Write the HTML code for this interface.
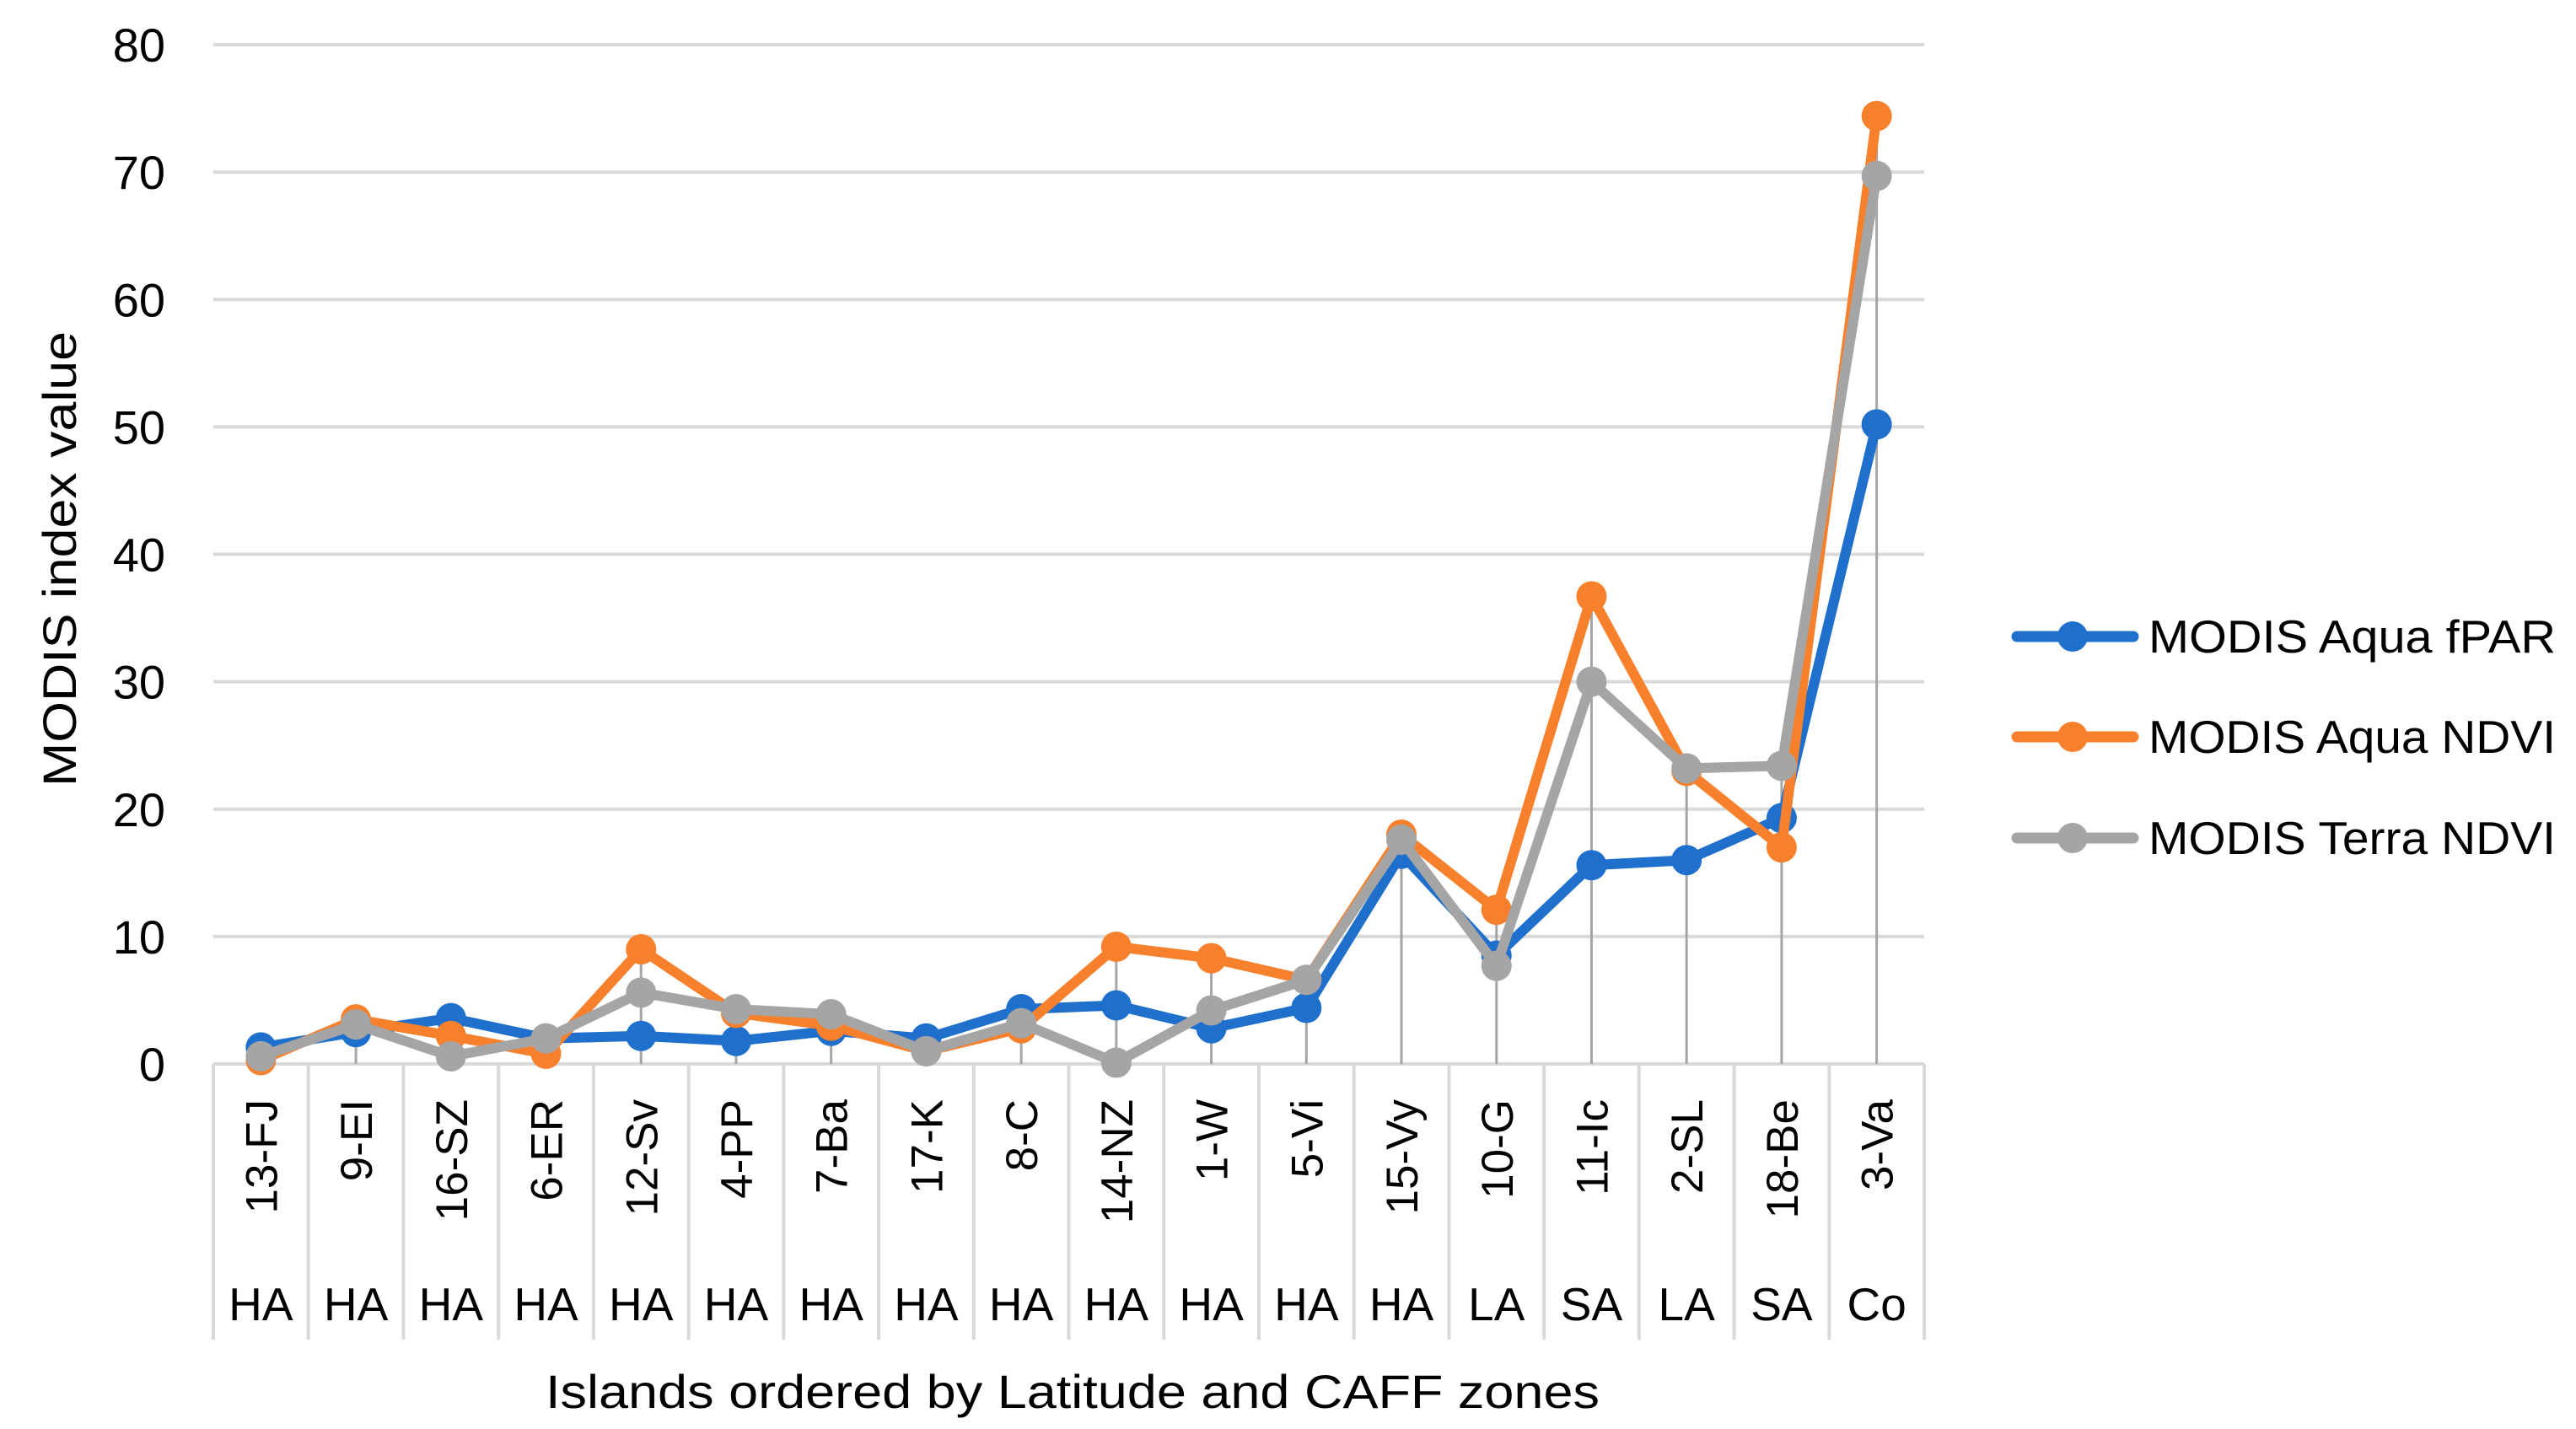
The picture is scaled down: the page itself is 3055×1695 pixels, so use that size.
<!DOCTYPE html>
<html><head><meta charset="utf-8">
<style>
html,body{margin:0;padding:0;background:#fff;}
svg{display:block;font-family:"Liberation Sans",Arial,sans-serif;}
</style></head>
<body>
<svg id="chart" width="3055" height="1695" viewBox="0 0 3055 1695" xmlns="http://www.w3.org/2000/svg">
<g id="grid"></g>
<g id="yticks"></g>
<g id="xcats"></g>
<g id="drops"></g>
<g id="series"></g>
<text x="0" y="0" font-size="56" fill="#000" text-anchor="middle" textLength="540" lengthAdjust="spacingAndGlyphs" transform="translate(90,663) rotate(-90)">MODIS index value</text>
<text x="1272" y="1670" font-size="56" fill="#000" text-anchor="middle" textLength="1250" lengthAdjust="spacingAndGlyphs">Islands ordered by Latitude and CAFF zones</text>
<g id="legend"></g>
</svg>
<script>
const categories = ["13-FJ","9-EI","16-SZ","6-ER","12-Sv","4-PP","7-Ba","17-K","8-C","14-NZ","1-W","5-Vi","15-Vy","10-G","11-Ic","2-SL","18-Be","3-Va"];
const zones = ["HA","HA","HA","HA","HA","HA","HA","HA","HA","HA","HA","HA","HA","LA","SA","LA","SA","Co"];
const fparValues = [1.3,2.5,3.6,2.0,2.2,1.8,2.6,2.0,4.3,4.6,2.8,4.4,16.5,8.5,15.6,16.0,19.3,50.2];
const aquaNdviValues = [0.3,3.5,2.2,0.8,9.0,4.0,3.0,1.0,2.8,9.2,8.3,6.6,18.0,12.1,36.7,23.0,17.0,74.4];
const terraNdviValues = [0.6,3.1,0.6,2.0,5.6,4.3,3.9,1.0,3.2,0.1,4.2,6.6,17.6,7.7,30.0,23.2,23.4,69.7];
const yTicks = [0,10,20,30,40,50,60,70,80];
const seriesNames = ["MODIS Aqua fPAR","MODIS Aqua NDVI","MODIS Terra NDVI"];

const NS="http://www.w3.org/2000/svg";
const X0=253, X1=2282, Y0=1262, Y80=53, BOT=1589;
const bw=(X1-X0)/categories.length;
function xs(i){return X0+bw*(i+0.5);}
function ys(v){return Y0-(v/80)*(Y0-Y80);}
function mk(tag,attrs,parent){const e=document.createElementNS(NS,tag);for(const k in attrs)e.setAttribute(k,attrs[k]);parent.appendChild(e);return e;}

const grid=document.getElementById('grid'), yt=document.getElementById('yticks');
yTicks.forEach(t=>{
  const l=mk('line',{x1:X0,x2:X1,y1:ys(t),y2:ys(t),stroke:'#d9d9d9','stroke-width':4},grid);
  
  
  const tx=mk('text',{x:196,y:ys(t)+20,'font-size':56,'text-anchor':'end',fill:'#000'},yt);
  tx.textContent=t;
  
  
});

const xc=document.getElementById('xcats');
for(let i=0;i<=categories.length;i++){
  const x=X0+bw*i;
  const l=mk('line',{x1:x,x2:x,y1:Y0,y2:BOT,stroke:'#d9d9d9','stroke-width':4},xc);
  
  
}
categories.forEach((c,i)=>{
  const t=mk('text',{x:0,y:0,'font-size':53,'text-anchor':'end',fill:'#000',transform:`translate(${xs(i)+19},1304) rotate(-90)`},xc);
  t.textContent=c;
  
  
  const z=mk('text',{x:xs(i),y:1566,'font-size':55,'text-anchor':'middle',fill:'#000'},xc);
  z.textContent=zones[i];
  
  
});

const dr=document.getElementById('drops');
categories.forEach((c,i)=>{
  const m=Math.max(fparValues[i],aquaNdviValues[i],terraNdviValues[i]);
  const l=mk('line',{x1:xs(i),x2:xs(i),y1:ys(m),y2:Y0,stroke:'#a5a5a5','stroke-width':3},dr);
  
  
});

const colors=["#1f6fcd","#f7802c","#a5a5a5"];
const allSeries=[fparValues,aquaNdviValues,terraNdviValues];
const sg=document.getElementById('series');
allSeries.forEach((vals,s)=>{
  const g=mk('g',{},sg);
  
  
  const p=mk('polyline',{points:vals.map((v,i)=>xs(i)+','+ys(v)).join(' '),fill:'none',stroke:colors[s],'stroke-width':12,'stroke-linejoin':'round','stroke-linecap':'round'},g);
  
  
  vals.forEach((v,i)=>{
    const c=mk('circle',{cx:xs(i),cy:ys(v),r:18,fill:colors[s]},g);
    
    
  });
});

const lg=document.getElementById('legend');
const ly=[755,874,994];
seriesNames.forEach((n,s)=>{
  const g=mk('g',{},lg);
  
  
  mk('line',{x1:2392,x2:2530,y1:ly[s],y2:ly[s],stroke:colors[s],'stroke-width':13,'stroke-linecap':'round'},g);
  mk('circle',{cx:2458,cy:ly[s],r:18,fill:colors[s]},g);
  const t=mk('text',{x:2548,y:ly[s]+19,'font-size':55,fill:'#000',textLength:483,lengthAdjust:'spacingAndGlyphs'},g);
  t.textContent=n;
  
  
});
</script>
</body></html>
